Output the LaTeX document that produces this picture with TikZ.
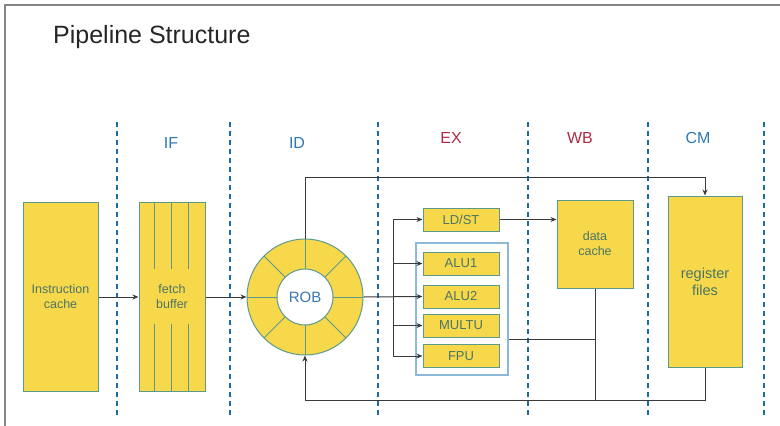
\documentclass[tikz,border=0pt]{standalone}
\usepackage{fontspec}
\setmainfont{Liberation Sans}
\usetikzlibrary{arrows.meta,calc}
\definecolor{ylw}{HTML}{F7D84B}
\definecolor{bdr}{HTML}{5C9A8B}
\definecolor{btxt}{HTML}{4A7565}
\definecolor{robtxt}{HTML}{3A78B0}
\definecolor{stblue}{HTML}{2E78B4}
\definecolor{stred}{HTML}{B02A45}
\definecolor{grpb}{HTML}{8CB8DA}
\definecolor{lnc}{HTML}{3A3A3A}
\definecolor{dashc}{HTML}{1B6CA8}
\definecolor{frame}{HTML}{858585}
\tikzset{
  ybox/.style={draw=bdr,fill=ylw,line width=1pt,text=btxt,align=center,inner sep=0pt,font=\fontsize{12.5}{15}\selectfont},
  unitbox/.style={ybox,minimum width=76pt,minimum height=23pt,font=\fontsize{13}{15}\selectfont},
  conn/.style={draw=lnc,line width=1pt},
  arr/.style={conn,-{Stealth[length=6pt,width=5pt]}},
  stagesep/.style={draw=dashc,line width=2.2pt,dash pattern=on 5pt off 4pt},
  stagelbl/.style={font=\fontsize{16}{18}\selectfont,inner sep=0pt},
}
\begin{document}
\begin{tikzpicture}[x=1pt,y=-1pt]
\useasboundingbox (0,0) rectangle (780,426);
% frame
\draw[frame,line width=1.5pt] (5,426) -- (5,5) -- (780,5);
% title
\node[anchor=base west,inner sep=0pt,font=\fontsize{25}{28}\selectfont,text=black!85] (title) at (53,43) {Pipeline Structure};
% stage separators
\foreach \x/\n in {117/a,230/b,378/c,528/d,648/e,764/f}{
  \coordinate (s\n t) at (\x,122);
  \coordinate (s\n b) at (\x,418);
  \draw[stagesep] (s\n t) -- (s\n b);
}
% stage labels
\node[stagelbl,text=stblue] (lif) at (171,143) {IF};
\node[stagelbl,text=stblue] (lid) at (297,143) {ID};
\node[stagelbl,text=stred] (lex) at (451,138) {EX};
\node[stagelbl,text=stred] (lwb) at (580,138) {WB};
\node[stagelbl,text=stblue] (lcm) at (698,138) {CM};
% instruction cache
\node[ybox,minimum width=75pt,minimum height=189pt] (ic) at (60.5,296.5) {Instruction\\cache};
% fetch buffer
\node[ybox,minimum width=66pt,minimum height=189pt] (fb) at (172,296.5) {fetch\\buffer};
\foreach \x in {154,171,188}{
  \draw[bdr,line width=1pt] (\x,202) -- (\x,269);
  \draw[bdr,line width=1pt] (\x,324) -- (\x,391);
}
% ROB
\node[circle,draw=bdr,fill=ylw,line width=1pt,minimum size=116pt,inner sep=0pt] (rob) at (305,297) {};
\foreach \a in {0,45,...,315}{
  \draw[bdr,line width=1pt] ($(rob.center)+(\a:28pt)$) -- ($(rob.center)+(\a:58pt)$);
}
\node[circle,draw=bdr,fill=white,line width=1pt,minimum size=56pt,inner sep=0pt,text=robtxt,font=\fontsize{15}{17}\selectfont] (robin) at (305,297) {ROB};
% execution units
\node[draw=grpb,line width=1.2pt,minimum width=92pt,minimum height=132pt,inner sep=0pt] (grp) at (462,309) {};
\node[unitbox] (ldst) at (461,219.5) {LD/ST};
\node[unitbox] (alu1) at (461,263.5) {ALU1};
\node[unitbox] (alu2) at (461,296.5) {ALU2};
\node[unitbox] (multu) at (461,325.5) {MULTU};
\node[unitbox] (fpu) at (461,356) {FPU};
% data cache
\node[ybox,minimum width=76pt,minimum height=88pt,font=\fontsize{12.5}{15}\selectfont] (dc) at (595,244) {data\\cache};
% register files
\node[ybox,minimum width=74pt,minimum height=171pt,font=\fontsize{14.5}{17}\selectfont] (rf) at (705,281.5) {register\\files};
% connectors
\draw[arr] (ic.east |- 0,297) -- (fb.west |- 0,297);
\draw[arr] (fb.east |- 0,297) -- (rob.west);
\coordinate (topr) at (705,177);
\draw[arr] (rob.north) |- (topr) -- (rf.north);
\draw[arr] (rob.east) -- (alu2.west);
\draw[conn] (393,219.5) -- (393,356);
\draw[arr] (393,219.5) -- (ldst.west);
\draw[arr] (393,263.5) -- (alu1.west);
\draw[arr] (393,325.5) -- (multu.west);
\draw[arr] (393,356) -- (fpu.west);
\draw[arr] (ldst.east) -- (ldst.east -| dc.west);
\coordinate (bot) at (705,400);
\draw[conn] (grp.east |- 0,339) -- (dc.south |- 0,339);
\draw[conn] (dc.south) -- (dc.south |- bot);
\draw[arr] (rf.south) -- (bot) -| (rob.south);
\end{tikzpicture}
\end{document}
